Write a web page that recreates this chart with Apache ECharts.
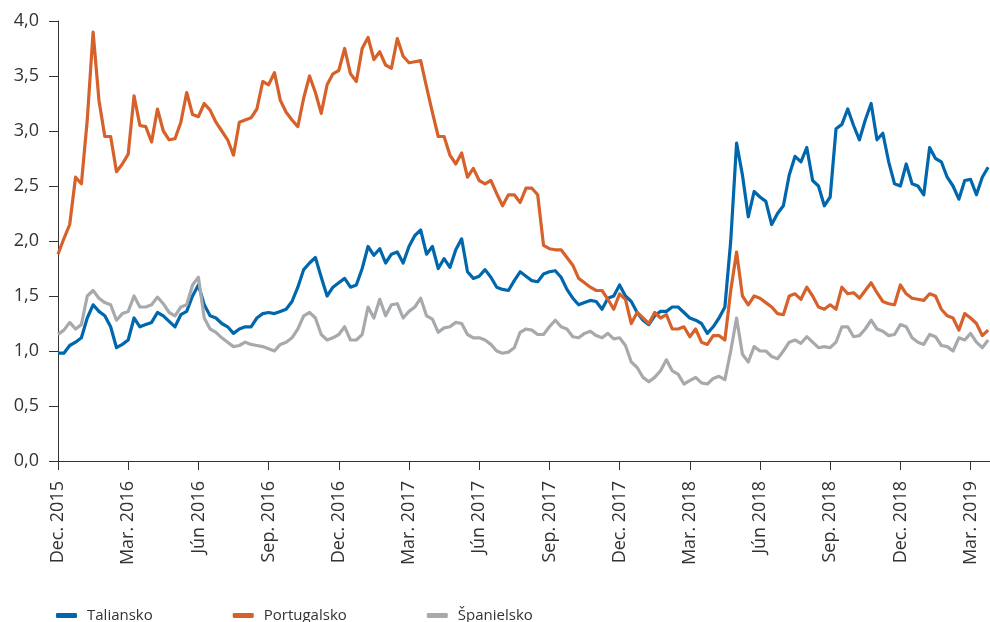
<!DOCTYPE html>
<html>
<head>
<meta charset="utf-8">
<script src="https://cdn.jsdelivr.net/npm/echarts@6/dist/echarts.min.js"></script>
<style>
  html, body { margin: 0; padding: 0; background: #fff; }
  #chart { width: 990px; height: 622px; }
</style>
</head>
<body>
<div id="chart"></div>
<script>
// os x: mesiace od dec. 2015, krok 0,25 mesiaca
const step = 0.25;
const quarterLabels = ['Dec. 2015', 'Mar. 2016', 'Jún 2016', 'Sep. 2016', 'Dec. 2016', 'Mar. 2017', 'Jún 2017',
  'Sep. 2017', 'Dec. 2017', 'Mar. 2018', 'Jún 2018', 'Sep. 2018', 'Dec. 2018', 'Mar. 2019'];
const seriesNames = ['Taliansko', 'Portugalsko', 'Španielsko'];

const taliansko = [
  0.98, 0.98, 1.05, 1.08, 1.12, 1.30, 1.42, 1.36, 1.32, 1.22,
  1.03, 1.06, 1.10, 1.30, 1.22, 1.24, 1.26, 1.35, 1.32, 1.27,
  1.22, 1.33, 1.36, 1.50, 1.60, 1.42, 1.32, 1.30, 1.25, 1.22,
  1.16, 1.20, 1.22, 1.22, 1.30, 1.34, 1.35, 1.34, 1.36, 1.38,
  1.45, 1.58, 1.74, 1.80, 1.85, 1.67, 1.50, 1.58, 1.62, 1.66,
  1.58, 1.60, 1.75, 1.95, 1.87, 1.93, 1.80, 1.88, 1.90, 1.80,
  1.95, 2.05, 2.10, 1.88, 1.95, 1.75, 1.84, 1.76, 1.92, 2.02,
  1.72, 1.66, 1.68, 1.74, 1.67, 1.58, 1.56, 1.55, 1.64, 1.72,
  1.68, 1.64, 1.63, 1.70, 1.72, 1.73, 1.67, 1.56, 1.48, 1.42,
  1.44, 1.46, 1.45, 1.38, 1.48, 1.50, 1.60, 1.50, 1.45, 1.35,
  1.28, 1.24, 1.32, 1.36, 1.36, 1.40, 1.40, 1.35, 1.30, 1.28,
  1.25, 1.16, 1.22, 1.30, 1.40, 2.00, 2.89, 2.60, 2.22, 2.45,
  2.40, 2.36, 2.15, 2.25, 2.32, 2.60, 2.77, 2.72, 2.85, 2.55,
  2.50, 2.32, 2.40, 3.02, 3.06, 3.20, 3.05, 2.92, 3.10, 3.25,
  2.92, 2.98, 2.72, 2.52, 2.50, 2.70, 2.52, 2.50, 2.42, 2.85,
  2.75, 2.72, 2.58, 2.50, 2.38, 2.55, 2.56, 2.42, 2.58, 2.67
];

const portugalsko = [
  1.88, 2.02, 2.15, 2.58, 2.52, 3.10, 3.90, 3.28, 2.95, 2.95,
  2.63, 2.70, 2.79, 3.32, 3.05, 3.04, 2.90, 3.20, 3.00, 2.92,
  2.93, 3.08, 3.35, 3.15, 3.13, 3.25, 3.19, 3.08, 3.00, 2.92,
  2.78, 3.08, 3.10, 3.12, 3.20, 3.45, 3.42, 3.53, 3.28, 3.17,
  3.10, 3.04, 3.30, 3.50, 3.35, 3.16, 3.42, 3.52, 3.55, 3.75,
  3.52, 3.45, 3.75, 3.85, 3.65, 3.72, 3.60, 3.57, 3.84, 3.68,
  3.62, 3.63, 3.64, 3.40, 3.17, 2.95, 2.95, 2.78, 2.70, 2.80,
  2.58, 2.66, 2.55, 2.52, 2.55, 2.43, 2.32, 2.42, 2.42, 2.35,
  2.48, 2.48, 2.42, 1.96, 1.93, 1.92, 1.92, 1.85, 1.78, 1.66,
  1.62, 1.58, 1.55, 1.55, 1.47, 1.38, 1.52, 1.47, 1.25, 1.35,
  1.30, 1.25, 1.35, 1.30, 1.33, 1.20, 1.20, 1.22, 1.13, 1.20,
  1.08, 1.06, 1.14, 1.14, 1.10, 1.55, 1.90, 1.50, 1.42, 1.50,
  1.48, 1.44, 1.40, 1.34, 1.33, 1.50, 1.52, 1.47, 1.58, 1.50,
  1.40, 1.38, 1.42, 1.38, 1.58, 1.52, 1.53, 1.48, 1.55, 1.62,
  1.53, 1.45, 1.43, 1.42, 1.60, 1.52, 1.48, 1.47, 1.46, 1.52,
  1.50, 1.38, 1.32, 1.30, 1.19, 1.34, 1.30, 1.25, 1.14, 1.19
];

const spanielsko = [
  1.15, 1.19, 1.26, 1.20, 1.24, 1.50, 1.55, 1.48, 1.44, 1.42,
  1.28, 1.34, 1.36, 1.50, 1.40, 1.40, 1.42, 1.49, 1.43, 1.35,
  1.32, 1.40, 1.42, 1.60, 1.67, 1.30, 1.20, 1.17, 1.12, 1.08,
  1.04, 1.05, 1.08, 1.06, 1.05, 1.04, 1.02, 1.00, 1.06, 1.08,
  1.12, 1.20, 1.32, 1.35, 1.30, 1.15, 1.10, 1.12, 1.15, 1.22,
  1.10, 1.10, 1.15, 1.40, 1.30, 1.47, 1.32, 1.42, 1.43, 1.30,
  1.36, 1.40, 1.48, 1.32, 1.29, 1.17, 1.21, 1.22, 1.26, 1.25,
  1.15, 1.12, 1.12, 1.10, 1.06, 1.00, 0.98, 0.99, 1.03, 1.17,
  1.20, 1.19, 1.15, 1.15, 1.22, 1.28, 1.22, 1.20, 1.13, 1.12,
  1.16, 1.18, 1.14, 1.12, 1.16, 1.11, 1.12, 1.05, 0.90, 0.85,
  0.76, 0.72, 0.76, 0.82, 0.92, 0.82, 0.79, 0.70, 0.73, 0.76,
  0.71, 0.70, 0.75, 0.77, 0.74, 1.00, 1.30, 0.97, 0.90, 1.04,
  1.00, 1.00, 0.95, 0.93, 1.00, 1.08, 1.10, 1.07, 1.13, 1.08,
  1.03, 1.04, 1.03, 1.08, 1.22, 1.22, 1.13, 1.14, 1.20, 1.28,
  1.20, 1.18, 1.14, 1.15, 1.24, 1.22, 1.12, 1.08, 1.06, 1.15,
  1.13, 1.05, 1.04, 1.00, 1.12, 1.10, 1.16, 1.08, 1.03, 1.10
];

const colors = ['#0067ac', '#d7612a', '#a6aaad'];
const quarterTicks = quarterLabels.map((_, i) => i * 3);

function toPairs(values) {
  return values.map((v, i) => [i * step, v]);
}

const chart = echarts.init(document.getElementById('chart'));

const option = {
  animation: false,
  color: colors,
  textStyle: { fontFamily: 'Open Sans' },
  grid: {
    left: 58,
    right: 0,
    top: 21,
    bottom: 161,
    containLabel: false,
    outerBoundsMode: 'none'
  },
  legend: {
    left: 56,
    top: 608,
    padding: 0,
    itemWidth: 21,
    itemHeight: 5,
    itemGap: 80,
    icon: 'roundRect',
    data: seriesNames,
    textStyle: {
      fontFamily: 'Open Sans',
      fontSize: 15,
      color: '#333',
      padding: [0, 0, 0, 5]
    }
  },
  xAxis: {
    type: 'value',
    min: 0,
    max: 39.83,
    interval: 3,
    axisLine: { onZero: false, lineStyle: { color: '#333', width: 1 } },
    axisTick: {
      show: true,
      length: 9,
      customValues: quarterTicks,
      lineStyle: { color: '#333' }
    },
    axisLabel: {
      rotate: 90,
      margin: 20,
      fontSize: 18,
      color: '#333',
      customValues: quarterTicks,
      formatter: v => quarterLabels[Math.round(v / 3)] || ''
    },
    splitLine: { show: false }
  },
  yAxis: {
    type: 'value',
    min: 0,
    max: 4,
    interval: 0.5,
    axisLine: { show: true, lineStyle: { color: '#333', width: 1 } },
    axisTick: { show: true, length: 9, lineStyle: { color: '#333' } },
    axisLabel: {
      margin: 19,
      fontSize: 18,
      color: '#333',
      formatter: v => v.toFixed(1).replace('.', ',')
    },
    splitLine: { show: false }
  },
  series: [
    { name: seriesNames[0], data: toPairs(taliansko) },
    { name: seriesNames[1], data: toPairs(portugalsko) },
    { name: seriesNames[2], data: toPairs(spanielsko) }
  ].map(s => Object.assign(s, {
    type: 'line',
    showSymbol: false,
    symbol: 'none',
    lineStyle: { width: 3.2, join: 'round' }
  }))
};

chart.setOption(option);
</script>
</body>
</html>
